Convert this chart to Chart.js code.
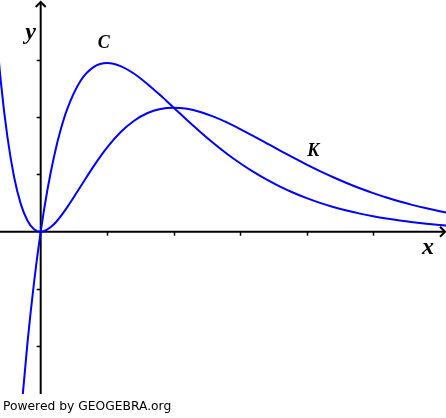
<!DOCTYPE html>
<html>
<head>
<meta charset="utf-8">
<script src="https://cdn.jsdelivr.net/npm/chart.js@4/dist/chart.umd.min.js"></script>
<style>
  html, body { margin: 0; padding: 0; background: #fff; }
  #wrap { width: 446px; height: 418px; }
</style>
</head>
<body>
<div id="wrap"><canvas id="graph"></canvas></div>
<script>
// curve C
const cX = [-0.3, -0.2, -0.1, 0, 0.1, 0.2, 0.3, 0.4, 0.6, 0.8, 1.0, 1.2, 1.4, 1.6, 1.8, 2.0, 2.2, 2.4, 2.6, 2.8, 3.0,
            3.2, 3.4, 3.6, 3.8, 4.0, 4.2, 4.4, 4.6, 4.8, 5.0, 5.2, 5.4, 5.6, 5.8, 6.0, 6.2];
const cY = [-3.240, -1.954, -0.884, 0, 0.724, 1.310, 1.778, 2.145, 2.634, 2.876, 2.943, 2.891, 2.762, 2.584, 2.380, 2.165,
            1.950, 1.742, 1.545, 1.362, 1.195, 1.043, 0.908, 0.787, 0.680, 0.586, 0.504, 0.432, 0.370, 0.316, 0.270,
            0.230, 0.195, 0.166, 0.141, 0.119, 0.101];

// curve K
const kX = [-0.7, -0.6, -0.5, -0.4, -0.3, -0.2, -0.1, 0, 0.2, 0.4, 0.6, 0.8, 1.0, 1.2, 1.4, 1.6, 1.8, 2.0, 2.2, 2.4, 2.6,
            2.8, 3.0, 3.2, 3.4, 3.6, 3.8, 4.0, 4.2, 4.4, 4.6, 4.8, 5.0, 5.2, 5.4, 5.6, 5.8, 6.0, 6.2];
const kY = [3.947, 2.624, 1.649, 0.955, 0.486, 0.195, 0.044, 0, 0.131, 0.429, 0.790, 1.150, 1.472, 1.735, 1.933, 2.067,
            2.142, 2.165, 2.145, 2.090, 2.008, 1.907, 1.792, 1.670, 1.543, 1.416, 1.292, 1.172, 1.058, 0.951, 0.851,
            0.758, 0.674, 0.597, 0.527, 0.464, 0.408, 0.357, 0.312];

const xTicks = [1, 2, 3, 4, 5];
const yTicks = [-2, -1, 1, 2, 3];

const toPoints = (xs, ys) => xs.map((x, i) => ({ x: x, y: ys[i] }));

const axesAndLabels = {
    id: 'axesAndLabels',
    beforeDatasetsDraw(chart) {
        const { ctx, scales: { x, y }, chartArea } = chart;
        const ox = x.getPixelForValue(0);
        const oy = y.getPixelForValue(0);
        ctx.save();
        ctx.strokeStyle = '#000';
        ctx.lineWidth = 2;
        // x axis
        ctx.beginPath();
        ctx.moveTo(chartArea.left, oy);
        ctx.lineTo(chartArea.right - 1, oy);
        ctx.stroke();
        ctx.beginPath();
        ctx.moveTo(chartArea.right - 6, oy - 5);
        ctx.lineTo(chartArea.right - 1, oy);
        ctx.lineTo(chartArea.right - 6, oy + 5);
        ctx.stroke();
        // y axis
        ctx.beginPath();
        ctx.moveTo(ox, chartArea.bottom);
        ctx.lineTo(ox, chartArea.top + 2);
        ctx.stroke();
        ctx.beginPath();
        ctx.moveTo(ox - 5, chartArea.top + 7);
        ctx.lineTo(ox, chartArea.top + 2);
        ctx.lineTo(ox + 5, chartArea.top + 7);
        ctx.stroke();
        // ticks
        ctx.lineWidth = 1.5;
        xTicks.forEach(v => {
            const px = Math.round(x.getPixelForValue(v)) + 0.5;
            ctx.beginPath();
            ctx.moveTo(px, oy);
            ctx.lineTo(px, oy + 4);
            ctx.stroke();
        });
        yTicks.forEach(v => {
            const py = Math.round(y.getPixelForValue(v)) + 0.5;
            ctx.beginPath();
            ctx.moveTo(ox, py);
            ctx.lineTo(ox - 4, py);
            ctx.stroke();
        });
        ctx.restore();
    },
    afterDraw(chart) {
        const { ctx, scales: { x, y } } = chart;
        const ox = x.getPixelForValue(0);
        const oy = y.getPixelForValue(0);
        ctx.save();
        ctx.fillStyle = '#000';
        ctx.textAlign = 'center';
        ctx.textBaseline = 'alphabetic';
        ctx.font = 'italic bold 24px "Liberation Serif"';
        ctx.fillText('y', ox - 10, 39);
        ctx.fillText('x', chart.width - 18, oy + 22);
        ctx.font = 'italic bold 18px "Liberation Serif"';
        ctx.fillText('C', x.getPixelForValue(0.95), y.getPixelForValue(3.2));
        ctx.fillText('K', x.getPixelForValue(4.1), y.getPixelForValue(1.32));
        ctx.textAlign = 'left';
        ctx.font = '12.3px "DejaVu Sans"';
        ctx.fillText('Powered by GEOGEBRA.org', 3, 410);
        ctx.restore();
    }
};

new Chart(document.getElementById('graph').getContext('2d'), {
    type: 'line',
    plugins: [axesAndLabels],
    data: {
        datasets: [
            {
                label: 'C',
                data: toPoints(cX, cY),
                borderColor: '#0000ff',
                borderWidth: 2,
                pointRadius: 0,
                cubicInterpolationMode: 'monotone',
                fill: false
            },
            {
                label: 'K',
                data: toPoints(kX, kY),
                borderColor: '#0000ff',
                borderWidth: 2,
                pointRadius: 0,
                cubicInterpolationMode: 'monotone',
                fill: false
            }
        ]
    },
    options: {
        responsive: true,
        maintainAspectRatio: false,
        animation: false,
        layout: {
            padding: { left: 0, right: 0, top: 0, bottom: 24 }
        },
        plugins: {
            legend: { display: false },
            tooltip: { enabled: false }
        },
        scales: {
            x: {
                type: 'linear',
                display: false,
                min: -0.612,
                max: 6.095
            },
            y: {
                type: 'linear',
                display: false,
                min: -2.832,
                max: 4.044
            }
        }
    }
});
</script>
</body>
</html>
